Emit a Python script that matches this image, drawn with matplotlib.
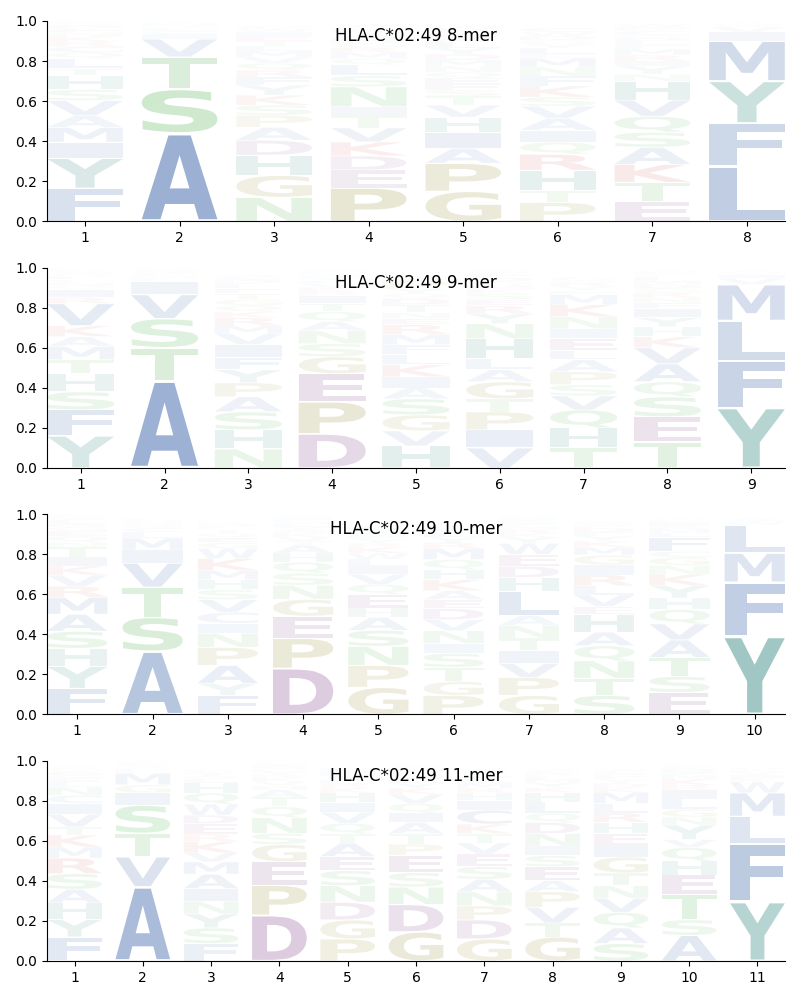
import matplotlib
matplotlib.use("Agg")
import matplotlib.pyplot as plt
from matplotlib.textpath import TextPath
from matplotlib.patches import PathPatch
from matplotlib.font_manager import FontProperties
from matplotlib.transforms import Affine2D

allele = "HLA-C*02:49"

# letters per position, bottom -> top, and their heights
mer8_letters = [
    "FYIMAVSHTLQCRKNEDGPW",
    "ASTVICLGNM",
    "NGHDAPSKYFRQVMLTEIWC",
    "PEDKVTINSLQMRGHAYFCW",
    "GPAIHVTSFEQNMDYLKRCW",
    "PTHRQIAVSKFNMELYGDWC",
    "ETKASQVHNYIRMFLDGCPW",
    "LFYMIVWA",
]
mer8_heights = [
    [.165, .15, .08, .073, .06, .075, .055, .07, .035, .05, .03, .03, .025, .025, .02, .02, .015, .01, .01, .005],
    [.44, .22, .16, .09, .025, .015, .015, .01, .01, .01],
    [.12, .11, .10, .075, .065, .06, .05, .05, .05, .04, .035, .035, .03, .03, .025, .025, .025, .02, .015, .015],
    [.167, .09, .07, .07, .07, .06, .045, .10, .055, .055, .03, .03, .025, .025, .02, .02, .015, .015, .01, .01],
    [.15, .14, .075, .08, .075, .06, .045, .03, .03, .03, .03, .03, .03, .03, .03, .03, .02, .02, .02, .02],
    [.095, .06, .10, .08, .06, .06, .06, .06, .045, .055, .05, .045, .045, .02, .03, .02, .02, .02, .02, .02],
    [.10, .095, .09, .085, .075, .08, .08, .095, .035, .04, .025, .03, .03, .02, .02, .015, .015, .02, .02, .015],
    [.275, .215, .21, .20, .045, .025, .01, .01],
]

mer9_letters = [
    "YFSHTMAKVRIQNLEDGCWP",
    "ATSVILMCGNQF",
    "NHSAPYFIVMRKQGTELDCW",
    "DPEGSNAQTIRKVLYMFCWH",
    "HVGSAIKLFMRENTDQYPWC",
    "VIPTGALHNYRESKMQDFWC",
    "THQVSPALEINKMFYRGDCW",
    "TESQAVKHYIFNRGDMLCPW",
    "YFLMVIWA",
]
mer9_heights = [
    [.16, .13, .09, .09, .07, .065, .05, .055, .11, .03, .04, .02, .015, .015, .015, .01, .01, .01, .005, .005],
    [.435, .165, .145, .12, .065, .015, .01, .01, .01, .005, .01, .01],
    [.095, .095, .09, .075, .07, .065, .06, .065, .055, .04, .04, .03, .03, .03, .03, .025, .025, .02, .015, .01],
    [.17, .16, .14, .085, .065, .065, .045, .05, .04, .04, .02, .02, .02, .015, .015, .01, .01, .01, .005, .01],
    [.11, .075, .08, .08, .055, .055, .06, .05, .05, .05, .05, .03, .03, .04, .03, .025, .025, .04, .01, .01],
    [.10, .09, .09, .065, .085, .06, .055, .10, .075, .05, .04, .03, .03, .02, .02, .02, .02, .02, .01, .01],
    [.10, .10, .09, .07, .055, .065, .06, .045, .06, .05, .06, .06, .05, .02, .02, .02, .01, .01, .005, .005],
    [.13, .125, .10, .075, .09, .08, .055, .05, .045, .045, .03, .025, .025, .02, .02, .02, .02, .01, .01, .01],
    [.30, .235, .20, .18, .03, .02, .01, .01],
]

mer10_letters = [
    "FYHSAMRVKITNQEGDLWPC",
    "ASTVIMLCGQNF",
    "FYAPNICVSHMKWGEQTLDR",
    "DPEGNSQHATVKRYLMFICW",
    "GPNSAHEQVILWKRYFMTDC",
    "PGTSINVDEAKHQMRYLFWC",
    "GPVITNALHDEWYKRMFSQC",
    "STNQAHEVLRIGMKYFDPWC",
    "ESTAVQHYKNGCFLMRIDPW",
    "YFMLWIV",
]
mer10_heights = [
    [.13, .11, .09, .085, .085, .085, .055, .055, .045, .045, .05, .025, .03, .025, .02, .015, .02, .01, .01, .01],
    [.315, .17, .15, .12, .065, .06, .03, .02, .015, .015, .01, .01],
    [.095, .06, .09, .09, .07, .05, .055, .063, .05, .05, .045, .06, .05, .03, .025, .02, .02, .015, .01, .01],
    [.23, .15, .11, .085, .07, .06, .055, .045, .04, .02, .02, .02, .015, .015, .015, .01, .01, .01, .005, .005],
    [.135, .11, .095, .08, .065, .045, .07, .05, .05, .04, .035, .03, .03, .02, .02, .015, .015, .015, .015, .01],
    [.095, .07, .07, .07, .05, .063, .055, .055, .045, .045, .055, .05, .05, .055, .03, .025, .025, .02, .01, .01],
    [.095, .09, .07, .063, .063, .063, .05, .12, .07, .055, .06, .055, .03, .02, .02, .015, .01, .02, .015, .01],
    [.095, .085, .088, .075, .068, .088, .04, .058, .045, .055, .05, .048, .04, .03, .025, .02, .02, .015, .01, .01],
    [.11, .08, .095, .087, .08, .072, .057, .063, .055, .045, .04, .03, .07, .02, .02, .015, .015, .01, .01, .005],
    [.39, .27, .145, .14, .015, .01, .01],
]

mer11_letters = [
    "FYHASRMKTVICNLEGDWPQ",
    "AVTSIGMLNQCF",
    "FSYNIAMVKREDWQHLGTCP",
    "DPEGSNQTAHVKRYLMFICW",
    "PGDNSEATQVIHKRLYFMCW",
    "GDNSEPTAIQVKYLHRMFCW",
    "GDPNASEVTKCIHRMLFYQW",
    "GTVPAESINDQLHKYMFRCW",
    "SAQVNTGIEHRLMKDYFPCW",
    "ASTEHQVYNGLIRKMFDPCW",
    "YFLMWKIVRH",
]
mer11_heights = [
    [.12, .087, .083, .068, .078, .078, .055, .06, .04, .063, .055, .04, .04, .025, .02, .015, .015, .01, .01, .01],
    [.37, .15, .117, .14, .062, .04, .058, .015, .01, .01, .01, .01],
    [.087, .078, .07, .063, .063, .072, .062, .045, .055, .038, .053, .042, .055, .055, .05, .02, .015, .015, .01, .01],
    [.228, .15, .117, .087, .055, .078, .055, .047, .038, .02, .02, .02, .015, .015, .01, .01, .01, .01, .005, .005],
    [.11, .095, .088, .083, .075, .07, .067, .047, .052, .055, .05, .047, .025, .02, .02, .02, .015, .015, .01, .005],
    [.145, .137, .087, .072, .087, .055, .053, .055, .047, .047, .047, .03, .025, .02, .02, .015, .015, .01, .01, .005],
    [.11, .095, .07, .07, .063, .063, .063, .055, .047, .047, .07, .047, .038, .025, .025, .02, .015, .015, .01, .01],
    [.12, .07, .078, .078, .055, .07, .055, .047, .063, .055, .047, .055, .047, .025, .025, .02, .015, .015, .01, .01],
    [.087, .078, .078, .07, .063, .063, .08, .06, .058, .055, .047, .047, .055, .025, .02, .02, .015, .015, .01, .01],
    [.128, .078, .128, .095, .07, .067, .04, .072, .04, .04, .05, .045, .025, .03, .02, .015, .015, .01, .01, .005],
    [.295, .29, .137, .117, .055, .02, .015, .015, .01, .01],
]

# residue colour groups
colors = {}
for aa in "AVLIMFWC":
    colors[aa] = "#4C72B0"
for aa in "YH":
    colors[aa] = "#3f8f86"
for aa in "STNQ":
    colors[aa] = "#4fb04f"
for aa in "DE":
    colors[aa] = "#8a5291"
for aa in "KR":
    colors[aa] = "#d04a4a"
for aa in "PG":
    colors[aa] = "#978f37"

font = FontProperties(family="DejaVu Sans", weight="bold")
glyphs = {}


def draw_letter(ax, letter, x, y0, h, width=0.8, vpad=0.05):
    if letter not in glyphs:
        glyphs[letter] = TextPath((0, 0), letter, size=1, prop=font)
    path = glyphs[letter]
    bb = path.get_extents()
    gh = h * (1 - vpad)
    tr = (Affine2D().translate(-bb.x0, -bb.y0)
          .scale(width / bb.width, gh / bb.height)
          .translate(x - width / 2, y0 + h * vpad / 2))
    # fainter for rarer residues
    alpha = min(1.0, 1.27 * h)
    patch = PathPatch(tr.transform_path(path), facecolor=colors[letter],
                      edgecolor="none", alpha=alpha)
    ax.add_patch(patch)


def draw_logo(ax, letters, heights, title):
    n = len(letters)
    for i in range(n):
        y = 0.0
        for aa, h in zip(letters[i], heights[i]):
            draw_letter(ax, aa, i + 1, y, h)
            y += h
    ax.set_xlim(0.6, n + 0.4)
    ax.set_ylim(0, 1)
    ax.set_xticks(range(1, n + 1))
    ax.set_yticks([0, 0.2, 0.4, 0.6, 0.8, 1.0])
    ax.spines["top"].set_visible(False)
    ax.spines["right"].set_visible(False)
    ax.text(0.5, 0.925, title, transform=ax.transAxes, ha="center",
            va="center", fontsize=12)


fig, axes = plt.subplots(4, 1, figsize=(8, 10), dpi=100)
fig.subplots_adjust(left=0.059, right=0.981, top=0.979, bottom=0.039, hspace=0.23)

panels = [
    (mer8_letters, mer8_heights, "8-mer"),
    (mer9_letters, mer9_heights, "9-mer"),
    (mer10_letters, mer10_heights, "10-mer"),
    (mer11_letters, mer11_heights, "11-mer"),
]
for ax, (lets, hts, name) in zip(axes, panels):
    draw_logo(ax, lets, hts, allele + " " + name)

fig.savefig("out.png")
